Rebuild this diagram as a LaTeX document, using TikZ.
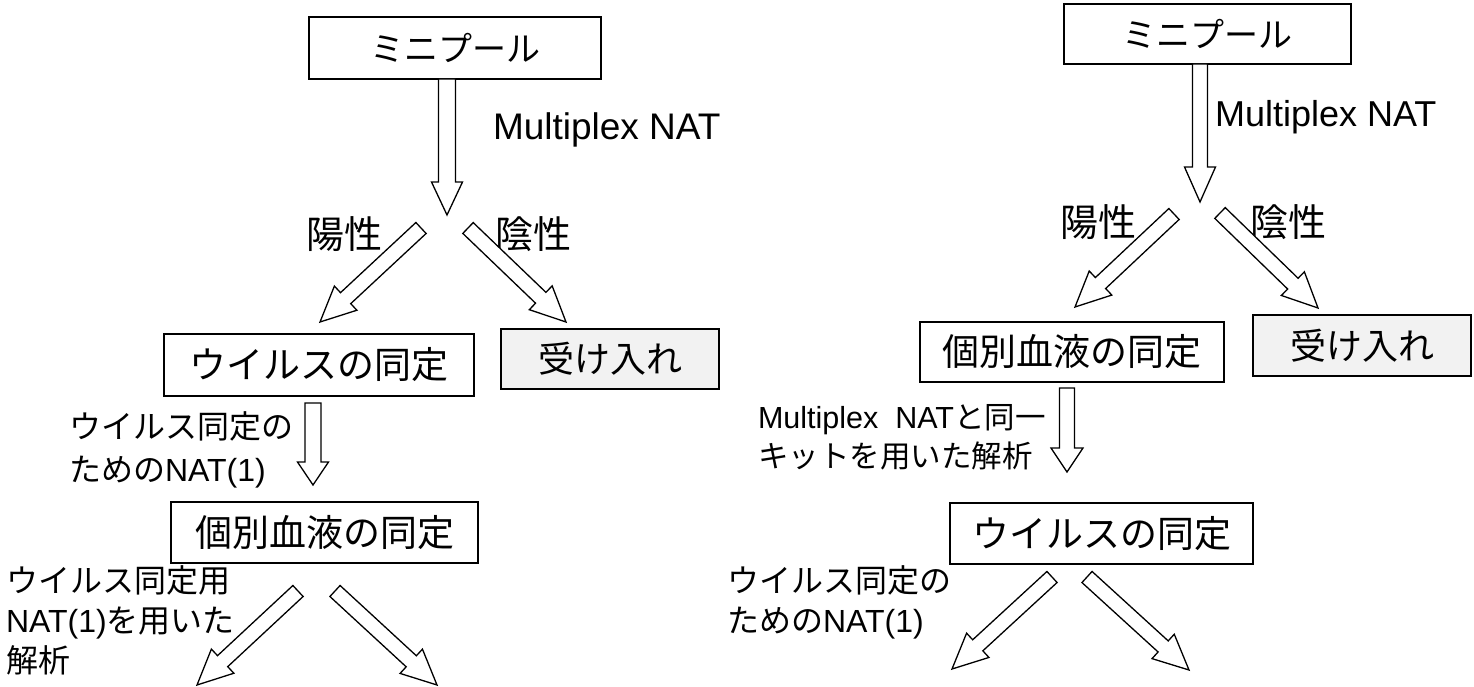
\documentclass[tikz,border=0pt]{standalone}
\usepackage{fontspec}
\setmainfont{Liberation Sans}
\newfontfamily\jp{Noto Sans CJK JP}
\usetikzlibrary{calc}
\tikzset{
  every node/.style={inner sep=0pt, outer sep=0pt},
  box/.style={draw=black, line width=1.8pt, fill=white},
  grybox/.style={box, fill=black!5},
  harrow/.style={draw=black, line width=1.3pt, fill=white, line join=miter},
  bigtxt/.style={font=\fontsize{37}{44}\selectfont\jp},
  mptxt/.style={font=\fontsize{34}{40}\selectfont\jp},
  midtxt/.style={font=\fontsize{38}{44}\selectfont\jp},
  acctxt/.style={font=\fontsize{36}{42}\selectfont\jp},
  lbl/.style={font=\fontsize{32}{43}\selectfont, align=left, anchor=west},
}
% hollow block arrow: tail, tip, shaft half-width, head half-width, head length
\newcommand\harr[5]{%
  \coordinate (#1-h) at ($(#2)!#5!(#1)$);
  \draw[harrow] ($(#1)!#3!90:(#2)$) -- ($(#1-h)!#3!90:(#2)$) -- ($(#1-h)!#4!90:(#2)$)
     -- (#2) -- ($(#1-h)!#4!-90:(#2)$) -- ($(#1-h)!#3!-90:(#2)$) -- ($(#1)!#3!-90:(#2)$) -- cycle;}
\begin{document}
\begin{tikzpicture}[x=1pt,y=-1pt]
\path[fill=white] (0,0) rectangle (1474,687);
\useasboundingbox (0,0) rectangle (1474,687);

% ---------------- left flow ----------------
\node[box, mptxt, minimum width=292pt, minimum height=62pt] (mpL) at (455,48) {ミニプール};
\node[font=\fontsize{37}{44}\selectfont, anchor=base west] (mnL) at (493,140) {Multiplex NAT};
\coordinate (a1t) at (447,79); \coordinate (a1p) at (447,215);
\harr{a1t}{a1p}{8.5pt}{15.5pt}{33pt}
\node[midtxt] (posL) at (344,234) {陽性};
\node[midtxt] (negL) at (533,234) {陰性};
\coordinate (a2t) at (421,228); \coordinate (a2p) at (320,322);
\harr{a2t}{a2p}{7.5pt}{16.5pt}{35pt}
\coordinate (a3t) at (468,228); \coordinate (a3p) at (566,322);
\harr{a3t}{a3p}{7.5pt}{16.5pt}{35pt}
\node[box, bigtxt, minimum width=310pt, minimum height=62pt] (viL) at (319,365) {ウイルスの同定};
\node[grybox, acctxt, minimum width=218pt, minimum height=60pt] (acL) at (610,359) {受け入れ};
\coordinate (a4t) at (313,403); \coordinate (a4p) at (313,485);
\harr{a4t}{a4p}{8pt}{15.5pt}{23pt}
\node[lbl] (l1) at (69,449.5) {{\jp ウイルス同定の}\\{\jp ための}NAT(1)};
\node[box, bigtxt, minimum width=307pt, minimum height=61pt] (pbL) at (324.5,532.5) {個別血液の同定};
\node[lbl, font=\fontsize{32}{40}\selectfont] (l2) at (6,620) {{\jp ウイルス同定用}\\NAT(1){\jp を用いた}\\{\jp 解析}};
\coordinate (a5t) at (298,591); \coordinate (a5p) at (197,685);
\harr{a5t}{a5p}{7.5pt}{16.5pt}{35pt}
\coordinate (a6t) at (335,591); \coordinate (a6p) at (437,685);
\harr{a6t}{a6p}{7.5pt}{16.5pt}{35pt}

% ---------------- right flow ----------------
\node[box, mptxt, minimum width=287pt, minimum height=60pt] (mpR) at (1207.5,34) {ミニプール};
\node[font=\fontsize{36}{44}\selectfont, anchor=base west] (mnR) at (1215,127) {Multiplex NAT};
\coordinate (b1t) at (1200,64); \coordinate (b1p) at (1200,202);
\harr{b1t}{b1p}{7.5pt}{15.5pt}{35pt}
\node[midtxt] (posR) at (1098,222) {陽性};
\node[midtxt] (negR) at (1288,222) {陰性};
\coordinate (b2t) at (1174,214); \coordinate (b2p) at (1075,307);
\harr{b2t}{b2p}{7.5pt}{16.5pt}{35pt}
\coordinate (b3t) at (1220,213); \coordinate (b3p) at (1318,308);
\harr{b3t}{b3p}{7.5pt}{16.5pt}{35pt}
\node[box, bigtxt, minimum width=304pt, minimum height=60pt] (pbR) at (1072,352) {個別血液の同定};
\node[grybox, acctxt, minimum width=218pt, minimum height=61pt] (acR) at (1362,345.5) {受け入れ};
\coordinate (b4t) at (1067,388); \coordinate (b4p) at (1067,472);
\harr{b4t}{b4p}{7.5pt}{16pt}{24pt}
\node[lbl, font=\fontsize{30.5}{39}\selectfont] (r1) at (758,437.5) {Multiplex\ \ NAT{\jp と同一}\\{\jp キットを用いた解析}};
\node[box, bigtxt, minimum width=303pt, minimum height=61pt] (viR) at (1101.5,533.5) {ウイルスの同定};
\node[lbl, font=\fontsize{32}{40}\selectfont] (r2) at (727,602) {{\jp ウイルス同定の}\\{\jp ための}NAT(1)};
\coordinate (b5t) at (1052,577); \coordinate (b5p) at (952,669);
\harr{b5t}{b5p}{7.5pt}{16.5pt}{35pt}
\coordinate (b6t) at (1087,577); \coordinate (b6p) at (1189,670);
\harr{b6t}{b6p}{7.5pt}{16.5pt}{35pt}
\end{tikzpicture}
\end{document}
